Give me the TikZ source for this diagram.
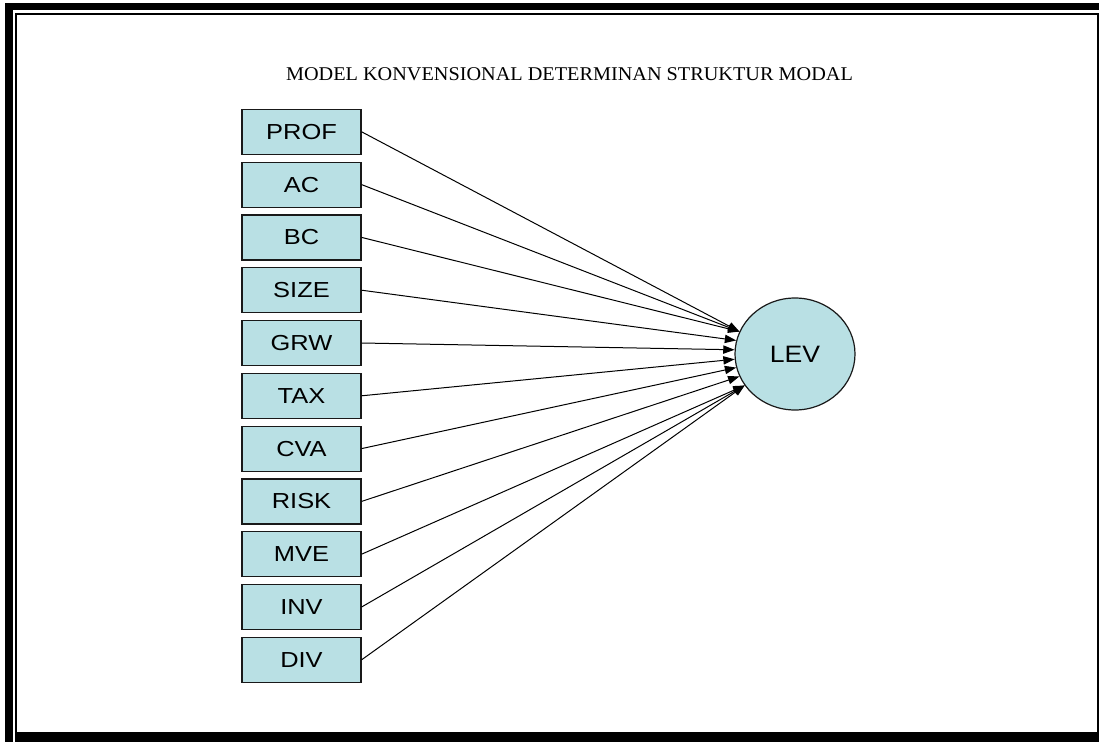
\documentclass[tikz,border=0pt]{standalone}
\usepackage{fontspec}
\setmainfont{Liberation Serif}
\newfontfamily\arialf{Liberation Sans}
\usetikzlibrary{arrows.meta,shapes.geometric}
\definecolor{boxfill}{RGB}{185,224,228}
\newcommand\vlabel[1]{\scalebox{1.17}[1]{#1}}
\begin{document}
\begin{tikzpicture}[x=0.75pt,y=-0.75pt,
  var/.style={draw=black!90, line width=0.9pt, fill=boxfill, minimum width=89.25pt,
    minimum height=33.75pt, inner sep=0pt, font=\arialf\fontsize{16.3}{19}\selectfont},
  latent/.style={ellipse, draw=black!90, line width=0.9pt, fill=boxfill, minimum width=90pt,
    minimum height=84pt, inner sep=0pt, font=\arialf\fontsize{17.8}{21}\selectfont},
  arr/.style={-{Triangle[length=8.5pt,width=6.2pt]}, line width=0.75pt},
  title/.style={font=\fontsize{14.6}{17}\selectfont, inner sep=0pt}]
\useasboundingbox (0,0) rectangle (1099,742);
% frame
\fill (5,3.3) rectangle (1099,10.3);
\fill (5,3.3) rectangle (13,742);
\fill (15,13.5) rectangle (1099,15.5);
\fill (15,13.5) rectangle (17,742);
\fill (1097,13.5) rectangle (1099,742);
\fill (15,732.3) rectangle (1099,742);
% title
\node[title] (ttl) at (569.5,74.5) {\scalebox{1.04}[1]{MODEL KONVENSIONAL DETERMINAN STRUKTUR MODAL}};
% variables
\node[var] (prof) at (301.5,131.8) {\vlabel{PROF}};
\node[var] (ac)   at (301.5,184.6) {\vlabel{AC}};
\node[var] (bc)   at (301.5,237.4) {\vlabel{BC}};
\node[var] (size) at (301.5,290.2) {\vlabel{SIZE}};
\node[var] (grw)  at (301.5,343.0) {\vlabel{GRW}};
\node[var] (tax)  at (301.5,395.8) {\vlabel{TAX}};
\node[var] (cva)  at (301.5,448.6) {\vlabel{CVA}};
\node[var] (risk) at (301.5,501.4) {\vlabel{RISK}};
\node[var] (mve)  at (301.5,554.2) {\vlabel{MVE}};
\node[var] (inv)  at (301.5,607.0) {\vlabel{INV}};
\node[var] (div)  at (301.5,659.8) {\vlabel{DIV}};
% latent
\node[latent] (lev) at (795,354) {\scalebox{1.12}[1]{LEV}};
% arrows
\draw[arr] (prof.east) -- (lev.158);
\draw[arr] (ac.east)   -- (lev.158);
\draw[arr] (bc.east)   -- (lev.158);
\draw[arr] (size.east) -- (lev.167);
\draw[arr] (grw.east)  -- (lev.176);
\draw[arr] (tax.east)  -- (lev.185);
\draw[arr] (cva.east)  -- (lev.193);
\draw[arr] (risk.east) -- (lev.202);
\draw[arr] (mve.east)  -- (lev.212);
\draw[arr] (inv.east)  -- (lev.212);
\draw[arr] (div.east)  -- (lev.212);
\end{tikzpicture}
\end{document}
